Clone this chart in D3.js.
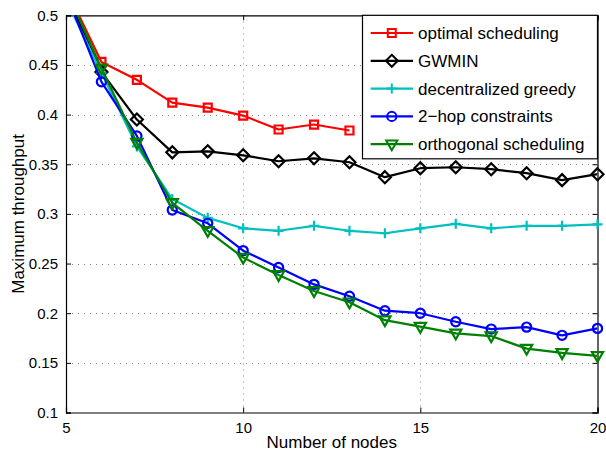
<!DOCTYPE html>
<html>
<head>
<meta charset="utf-8">
<script src="https://cdn.jsdelivr.net/npm/d3@7"></script>
<style>
  body { margin: 0; background: #fff; }
  text { font-family: "Liberation Sans", Arial, sans-serif; fill: #000; }
</style>
</head>
<body>
<div id="chart"></div>
<script>
// number of nodes on the x axis
const nodes = [5, 6, 7, 8, 9, 10, 11, 12, 13, 14, 15, 16, 17, 18, 19, 20];

const optimal = [0.527, 0.453, 0.435, 0.412, 0.407, 0.399, 0.385, 0.390, 0.384];
const gwmin = [0.522, 0.443, 0.395, 0.362, 0.363, 0.359, 0.353, 0.356, 0.352, 0.337, 0.346, 0.347, 0.345, 0.341, 0.334, 0.340];
const greedy = [0.516, 0.442, 0.368, 0.315, 0.296, 0.2855, 0.283, 0.288, 0.283, 0.2805, 0.2855, 0.290, 0.2855, 0.288, 0.288, 0.2895];
const twoHop = [0.522, 0.433, 0.3785, 0.304, 0.2905, 0.263, 0.246, 0.229, 0.217, 0.2025, 0.200, 0.1914, 0.184, 0.186, 0.1777, 0.1847];
const orthogonal = [0.527, 0.4466, 0.3717, 0.311, 0.283, 0.256, 0.2385, 0.2224, 0.211, 0.193, 0.1864, 0.1797, 0.177, 0.1643, 0.160, 0.157];

const xTicks = [5, 10, 15, 20];
const yTicks = [0.1, 0.15, 0.2, 0.25, 0.3, 0.35, 0.4, 0.45, 0.5];

const seriesNames = ['optimal scheduling', 'GWMIN', 'decentralized greedy', '2\u2212hop constraints', 'orthogonal scheduling'];
const seriesValues = [optimal, gwmin, greedy, twoHop, orthogonal];
const seriesColors = ['#ff0000', '#000000', '#00bfbf', '#0000ff', '#008000'];
const seriesMarkers = ['square', 'diamond', 'plus', 'circle', 'triangle'];

const width = 606;
const height = 452;
const margin = { top: 15.3, right: 8.5, bottom: 39.5, left: 66 };

const svg = d3.select('#chart')
  .append('svg')
  .attr('width', width)
  .attr('height', height);

const xScale = d3.scaleLinear()
  .domain([5, 20])
  .range([margin.left, width - margin.right]);

const yScale = d3.scaleLinear()
  .domain([0.1, 0.5])
  .range([height - margin.bottom, margin.top]);

// clip for the lines
svg.append('clipPath')
  .attr('id', 'plot-clip')
  .append('rect')
  .attr('x', margin.left)
  .attr('y', margin.top)
  .attr('width', width - margin.left - margin.right)
  .attr('height', height - margin.top - margin.bottom);

// dotted grid
const grid = svg.append('g').attr('stroke', '#888').attr('stroke-width', 1).attr('stroke-dasharray', '1,5');
grid.selectAll('.gx')
  .data(xTicks.slice(1, -1))
  .enter()
  .append('line')
  .attr('x1', d => Math.round(xScale(d)) + 0.5)
  .attr('x2', d => Math.round(xScale(d)) + 0.5)
  .attr('y1', yScale(0.1))
  .attr('y2', yScale(0.5));
grid.selectAll('.gy')
  .data(yTicks.slice(1, -1))
  .enter()
  .append('line')
  .attr('x1', xScale(5))
  .attr('x2', xScale(20))
  .attr('y1', d => Math.round(yScale(d)) + 0.5)
  .attr('y2', d => Math.round(yScale(d)) + 0.5);

// axes, ticks pointing inward like matlab
const xAxis = d3.axisBottom(xScale).tickValues(xTicks).tickSize(-5).tickPadding(10).tickFormat(d3.format('d'));
const yAxis = d3.axisLeft(yScale).tickValues(yTicks).tickSize(-5).tickPadding(8).tickFormat(d => d3.format('')(+d.toFixed(2)));

svg.append('g')
  .attr('transform', `translate(0, ${height - margin.bottom})`)
  .call(xAxis);
svg.append('g')
  .attr('transform', `translate(${margin.left}, 0)`)
  .call(yAxis);

// top and right box sides
svg.append('g')
  .attr('transform', `translate(0, ${margin.top})`)
  .call(d3.axisTop(xScale).tickValues(xTicks).tickSize(-5).tickFormat(''));
svg.append('g')
  .attr('transform', `translate(${width - margin.right}, 0)`)
  .call(d3.axisRight(yScale).tickValues(yTicks).tickSize(-5).tickFormat(''));

svg.selectAll('.domain').attr('stroke', '#000').attr('stroke-width', 1.2);
svg.selectAll('.tick line').attr('stroke', '#000');
svg.selectAll('.tick text').style('font-size', '15px').style('font-family', '"Liberation Sans", Arial, sans-serif');

// axis labels
svg.append('text')
  .attr('x', (margin.left + width - margin.right) / 2)
  .attr('y', 447.5)
  .attr('text-anchor', 'middle')
  .style('font-size', '17px')
  .text('Number of nodes');

svg.append('text')
  .attr('transform', `translate(23.5, ${(margin.top + height - margin.bottom) / 2}) rotate(-90)`)
  .attr('text-anchor', 'middle')
  .style('font-size', '17px')
  .text('Maximum throughput');

function markerPath(type) {
  if (type === 'square') return 'M-4,-4H4V4H-4Z';
  if (type === 'diamond') return 'M0,-6L6,0L0,6L-6,0Z';
  if (type === 'plus') return 'M-5,0H5M0,-5V5';
  if (type === 'circle') return 'M4.6,0A4.6,4.6 0 1,1 -4.6,0A4.6,4.6 0 1,1 4.6,0Z';
  return 'M-5.6,-3.8H5.6L0,6Z';
}

const line = d3.line()
  .x((d, i) => xScale(nodes[i]))
  .y(d => yScale(d));

const plot = svg.append('g');
seriesValues.forEach((values, s) => {
  plot.append('path')
    .datum(values)
    .attr('clip-path', 'url(#plot-clip)')
    .attr('fill', 'none')
    .attr('stroke', seriesColors[s])
    .attr('stroke-width', 2.2)
    .attr('stroke-linejoin', 'round')
    .attr('d', line);

  const pts = values.map((v, i) => ({ x: nodes[i], y: v }))
    .filter(p => p.y <= 0.5 && p.y >= 0.1);
  plot.selectAll(null)
    .data(pts)
    .enter()
    .append('path')
    .attr('transform', d => `translate(${xScale(d.x)}, ${yScale(d.y)})`)
    .attr('d', markerPath(seriesMarkers[s]))
    .attr('fill', 'none')
    .attr('stroke', seriesColors[s])
    .attr('stroke-width', 2.2);
});

// legend
const legend = svg.append('g');
legend.append('rect')
  .attr('x', 362.5)
  .attr('y', margin.top)
  .attr('width', width - margin.right - 362.5)
  .attr('height', 143.5)
  .attr('fill', '#fff')
  .attr('stroke', '#000')
  .attr('stroke-width', 1.2);

seriesNames.forEach((name, s) => {
  const yy = 33 + s * 27.8;
  legend.append('line')
    .attr('x1', 370.7).attr('x2', 413)
    .attr('y1', yy).attr('y2', yy)
    .attr('stroke', seriesColors[s])
    .attr('stroke-width', 2.2);
  legend.append('path')
    .attr('transform', `translate(391.8, ${yy})`)
    .attr('d', markerPath(seriesMarkers[s]))
    .attr('fill', 'none')
    .attr('stroke', seriesColors[s])
    .attr('stroke-width', 2);
  legend.append('text')
    .attr('x', 418)
    .attr('y', yy)
    .attr('dy', '0.35em')
    .style('font-size', '17px')
    .text(name);
});
</script>
</body>
</html>
